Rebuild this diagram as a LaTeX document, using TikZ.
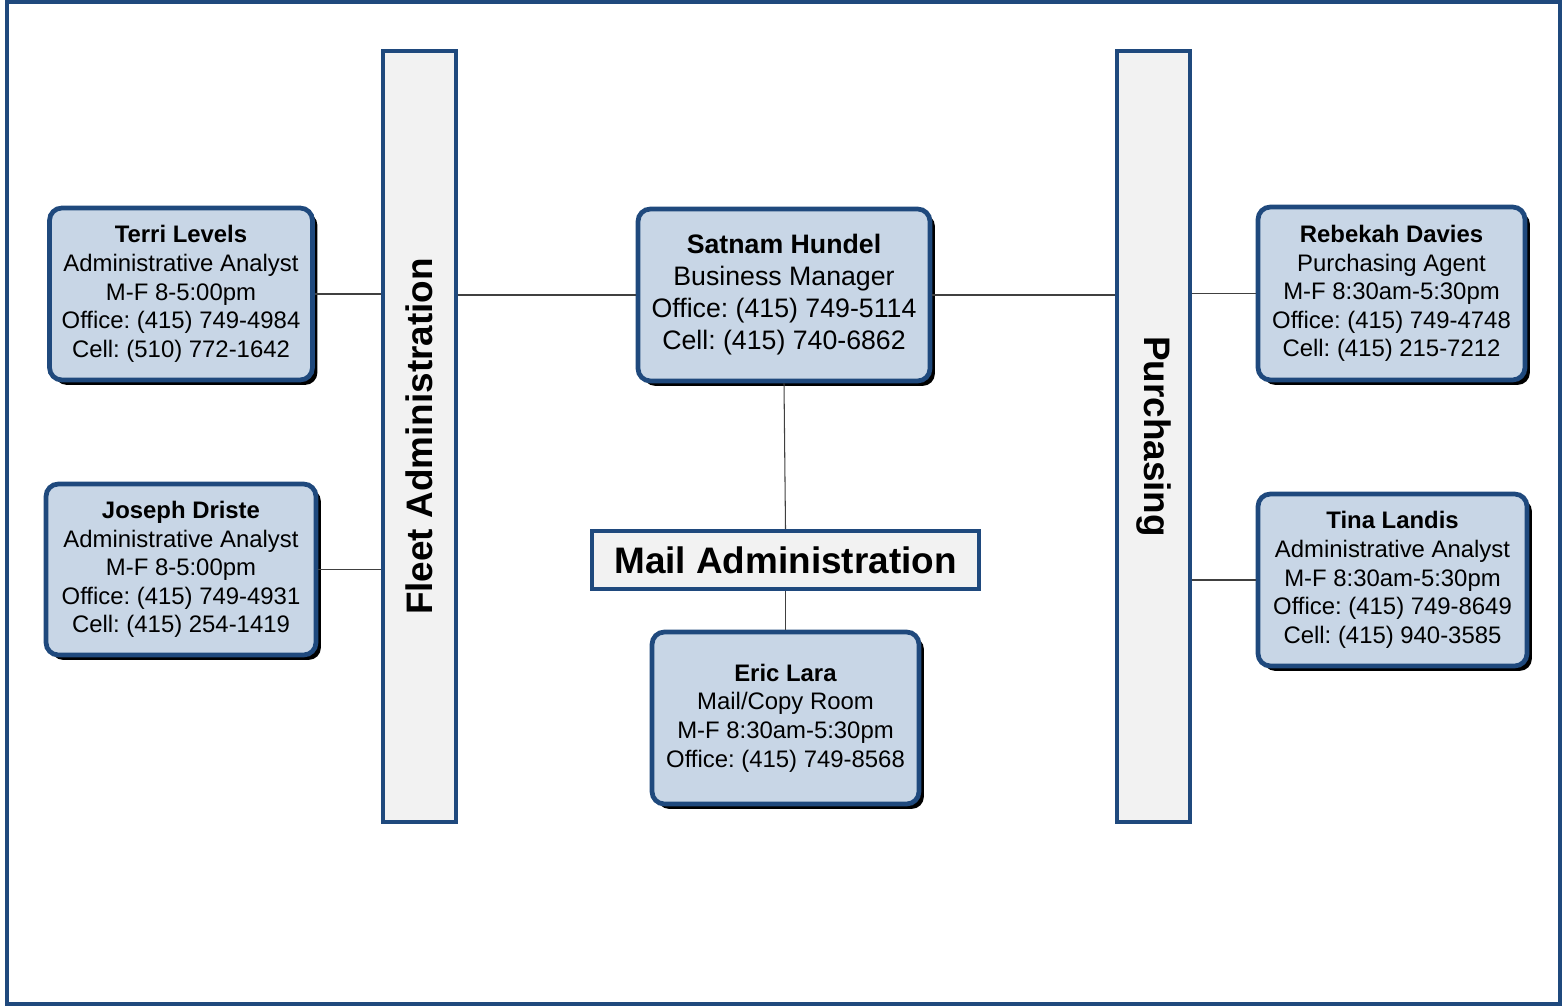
\documentclass[tikz,border=0pt]{standalone}
\usepackage{fontspec}
\setmainfont{Liberation Sans}
\usetikzlibrary{shadows}
\frenchspacing
\begin{document}
\begin{tikzpicture}[x=0.02cm,y=-0.02cm,
  person/.style={draw=boxblue, line width=2.7pt, fill=boxfill, rounded corners=7pt,
    align=center, inner sep=0pt, font=\fontsize{13.6}{16.3}\selectfont,
    drop shadow={shadow xshift=2.8pt, shadow yshift=-2.8pt, fill=black, opacity=1}},
  unit/.style={draw=boxblue, line width=2.2pt, fill=barfill, inner sep=0pt,
    font=\bfseries\fontsize{21}{24}\selectfont},
  link/.style={draw=black!75, line width=0.6pt}]
  % Define colors
  \definecolor{boxblue}{RGB}{31,73,125}
  \definecolor{boxfill}{RGB}{200,214,230}
  \definecolor{barfill}{RGB}{242,242,242}

  % Page and outer frame
  \useasboundingbox (0,0) rectangle (1564,1006);
  \draw[boxblue, line width=2.8pt] (7,2) rectangle (1560,1004);

  % Units
  \node[unit, minimum width=1.46cm, minimum height=15.42cm,
    label={[rotate=90, font=\bfseries\fontsize{21}{24}\selectfont]center:Fleet Administration}]
    (fleet) at (419.5,436.5) {};
  \node[unit, minimum width=1.46cm, minimum height=15.42cm,
    label={[rotate=-90, font=\bfseries\fontsize{21}{24}\selectfont]center:Purchasing}]
    (purch) at (1153.5,436.5) {};
  \node[unit, minimum width=7.74cm, minimum height=1.16cm] (mail) at (785.5,560) {Mail Administration};

  % People
  \node[person, minimum width=5.26cm, minimum height=3.44cm] (terri) at (181,294)
    {\textbf{Terri Levels}\\Administrative Analyst\\M-F 8-5:00pm\\Office: (415) 749-4984\\Cell: (510) 772-1642};
  \node[person, minimum width=5.4cm, minimum height=3.42cm] (joseph) at (181,569.5)
    {\textbf{Joseph Driste}\\Administrative Analyst\\M-F 8-5:00pm\\Office: (415) 749-4931\\Cell: (415) 254-1419};
  \node[person, minimum width=5.84cm, minimum height=3.44cm, font=\fontsize{15.2}{18.2}\selectfont] (satnam) at (784,295)
    {\textbf{Satnam Hundel}\\Business Manager\\Office: (415) 749-5114\\Cell: (415) 740-6862};
  \node[person, minimum width=5.34cm, minimum height=3.44cm] (eric) at (785.5,718)
    {\textbf{Eric Lara}\\Mail/Copy Room\\M-F 8:30am-5:30pm\\Office: (415) 749-8568};
  \node[person, minimum width=5.34cm, minimum height=3.46cm] (rebekah) at (1391.5,293.5)
    {\textbf{Rebekah Davies}\\Purchasing Agent\\M-F 8:30am-5:30pm\\Office: (415) 749-4748\\Cell: (415) 215-7212};
  \node[person, minimum width=5.38cm, minimum height=3.44cm] (tina) at (1392.5,580)
    {\textbf{Tina Landis}\\Administrative Analyst\\M-F 8:30am-5:30pm\\Office: (415) 749-8649\\Cell: (415) 940-3585};

  % Connectors
  \draw[link] (terri.east) -- (terri.east -| fleet.west);
  \draw[link] (joseph.east) -- (joseph.east -| fleet.west);
  \draw[link] (satnam.west) -- (satnam.west -| fleet.east);
  \draw[link] (satnam.east) -- (satnam.east -| purch.west);
  \draw[link] (rebekah.west) -- (rebekah.west -| purch.east);
  \draw[link] (tina.west) -- (tina.west -| purch.east);
  \draw[link] (satnam.south) -- (mail.north);
  \draw[link] (mail.south) -- (eric.north);
\end{tikzpicture}
\end{document}
